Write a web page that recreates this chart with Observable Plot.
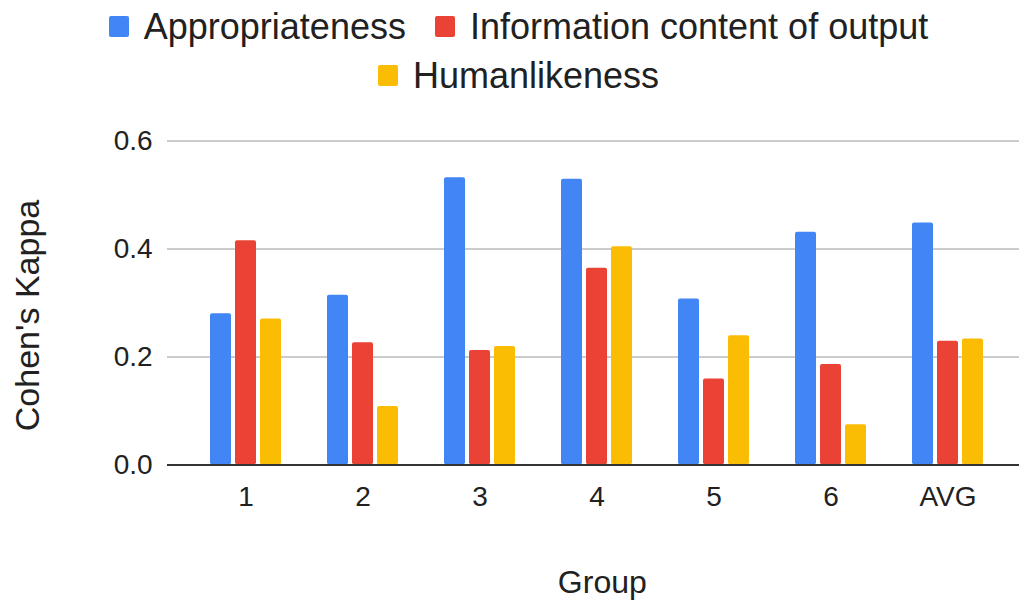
<!DOCTYPE html>
<html>
<head>
<meta charset="utf-8">
<script src="https://cdn.jsdelivr.net/npm/d3@7"></script>
<script src="https://cdn.jsdelivr.net/npm/@observablehq/plot@0.6"></script>
<style>
  body { margin: 0; background: #fff; font-family: "Liberation Sans", Arial, sans-serif; }
  #chart { width: 1019px; height: 608px; position: relative; overflow: hidden; background: #fff; }
  .lg-swatches {
    font-family: "Liberation Sans", Arial, sans-serif !important;
    font-size: 36px !important;
    color: #212121 !important;
    margin: 2px 0 0 0 !important;
    padding-left: 18px !important;
    box-sizing: border-box;
    width: 1019px;
  }
  .lg-swatches-wrap {
    display: flex !important;
    flex-wrap: wrap !important;
    justify-content: center !important;
    align-items: center !important;
    column-gap: 29px;
    row-gap: 0;
    min-height: 0 !important;
    line-height: 49px;
  }
  .lg-swatch { margin-right: 0 !important; height: 49px; display: inline-flex !important; align-items: center !important; }
  .lg-swatch > svg { margin-right: 15px !important; }
  .lg-swatch rect { rx: 2px; ry: 2px; }
</style>
</head>
<body>
<div id="chart"></div>
<script>
const groups = ["1", "2", "3", "4", "5", "6", "AVG"];
const series = ["Appropriateness", "Information content of output", "Humanlikeness"];
const appropriateness = [0.280, 0.314, 0.532, 0.529, 0.307, 0.431, 0.448];
const informationContent = [0.415, 0.226, 0.212, 0.364, 0.159, 0.186, 0.229];
const humanlikeness = [0.270, 0.108, 0.219, 0.404, 0.239, 0.074, 0.233];
const colors = ["#4285F4", "#EA4335", "#FBBC04"];
const yTicks = [0, 0.2, 0.4, 0.6];
const xTitle = "Group";
const yTitle = "Cohen's Kappa";

const seriesValues = [appropriateness, informationContent, humanlikeness];
const data = groups.flatMap((g, i) => series.map((s, j) => ({group: g, series: s, value: seriesValues[j][i]})));

const font = "'Liberation Sans', Arial, sans-serif";
// Gridlines span the whole plotting area: extend each facet's rules outward.
const gridInset = {insetLeft: -20.5, insetRight: -13.2, shapeRendering: "crispEdges"};

const chart = Plot.plot({
  width: 1019,
  height: 508,
  marginTop: 40.5,
  marginBottom: 143.7,
  marginLeft: 166,
  marginRight: 0,
  style: {fontFamily: font, fontSize: "28px", color: "#212121", background: "#fff", overflow: "visible"},
  fx: {domain: groups, range: [186.5, 1005.8], paddingInner: 0, paddingOuter: 0, label: null},
  x: {domain: series, paddingInner: 0.156, paddingOuter: 0.863, axis: null},
  y: {domain: [0, 0.6], axis: null},
  color: {domain: series, range: colors},
  marks: [
    Plot.ruleY(yTicks.filter(d => d > 0), {stroke: "#cccccc", strokeWidth: 1.3, ...gridInset}),
    Plot.barY(data, {fx: "group", x: "series", y: "value", fill: "series", rx: 2}),
    Plot.ruleY([0], {stroke: "#333333", strokeWidth: 2, ...gridInset}),
    Plot.axisFx({anchor: "bottom", tickSize: 0, tickPadding: 21, label: null}),
    Plot.axisY(yTicks, {anchor: "left", tickSize: 0, tickPadding: 34.8, tickFormat: d => d.toFixed(1), label: null}),
    Plot.text([{g: groups[3], t: xTitle}], {fx: "g", text: "t", frameAnchor: "bottom", textAnchor: "middle", lineAnchor: "top", dy: 105.7, dx: 5.3, fontSize: 32}),
    Plot.text([{g: groups[0], t: yTitle}], {fx: "g", text: "t", frameAnchor: "left", textAnchor: "middle", rotate: -90, dx: -159.1, dy: 12.6, fontSize: 34})
  ]
});

const legend = chart.legend("color", {className: "lg", swatchWidth: 20, swatchHeight: 21});
const container = document.getElementById("chart");
container.appendChild(legend);
container.appendChild(chart);
</script>
</body>
</html>
